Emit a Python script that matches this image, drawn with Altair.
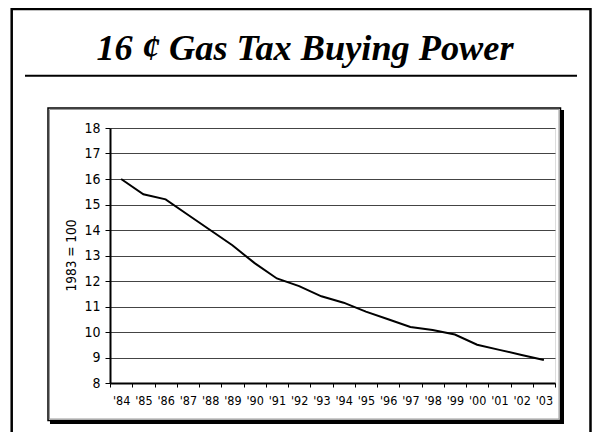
import altair as alt
import pandas as pd

years = ["'84", "'85", "'86", "'87", "'88", "'89", "'90", "'91", "'92", "'93",
         "'94", "'95", "'96", "'97", "'98", "'99", "'00", "'01", "'02", "'03"]
values = [16.0, 15.4, 15.2, 14.6, 14.0, 13.4, 12.7, 12.1, 11.8, 11.4,
          11.15, 10.8, 10.5, 10.2, 10.08, 9.9, 9.5, 9.3, 9.1, 8.9]
y_ticks = list(range(8, 19))
title_text = "16 ¢ Gas Tax Buying Power"
y_title = "1983 = 100"

df = pd.DataFrame({"year": years, "value": values})
dummy = pd.DataFrame({"a": [0]})

W, H = 445, 255
LABEL_FONT = "DejaVu Sans Condensed, sans-serif"

line = alt.Chart(df).mark_line(color="black", strokeWidth=2).encode(
    x=alt.X("year:N", sort=years,
            scale=alt.Scale(type="band", paddingInner=0, paddingOuter=0),
            axis=alt.Axis(title=None, labelAngle=0, tickBand="extent",
                          domainColor="black", domainWidth=2,
                          tickColor="black", tickWidth=1, tickSize=4,
                          labelFont=LABEL_FONT, labelFontSize=12.5,
                          labelColor="black", labelPadding=7, grid=False)),
    y=alt.Y("value:Q", scale=alt.Scale(domain=[8, 18], nice=False),
            axis=alt.Axis(values=y_ticks, title=y_title, grid=True,
                          gridColor="#444", gridWidth=1.2,
                          domainColor="black", domainWidth=2,
                          tickColor="black", tickWidth=1, tickSize=5,
                          labelFont=LABEL_FONT, labelFontSize=14,
                          labelColor="black", labelPadding=5,
                          titleFont=LABEL_FONT, titleFontSize=13.5,
                          titleFontWeight="normal", titleColor="black",
                          titleX=-39, titleY=127, titleAngle=-90,
                          titleAlign="center", titleBaseline="middle")),
)

outer = alt.Chart(dummy).mark_rect(fill="transparent", stroke="black", strokeWidth=2.5).encode(
    x=alt.value(-98.3), x2=alt.value(480.5), y=alt.value(-119), y2=alt.value(340))

title_rule = alt.Chart(dummy).mark_rule(color="black", strokeWidth=2).encode(
    x=alt.value(-85), x2=alt.value(467), y=alt.value(-52.3))

inner_box = alt.Chart(dummy).mark_rect(fill="transparent", stroke="black", strokeWidth=1.5).encode(
    x=alt.value(-62), x2=alt.value(450.5), y=alt.value(-20), y2=alt.value(292.5))
inner_gray = alt.Chart(dummy).mark_rect(fill="transparent", stroke="#999", strokeWidth=1).encode(
    x=alt.value(-60.5), x2=alt.value(449), y=alt.value(-18.5), y2=alt.value(291))
shadow_r = alt.Chart(dummy).mark_rule(color="black", strokeWidth=3).encode(
    x=alt.value(452.5), y=alt.value(-18), y2=alt.value(295.5))
shadow_b = alt.Chart(dummy).mark_rule(color="black", strokeWidth=3).encode(
    x=alt.value(-60), x2=alt.value(454), y=alt.value(294.5))

title = alt.Chart(dummy).mark_text(
    text=title_text, font="Liberation Serif", fontSize=36.3, fontWeight="bold",
    fontStyle="italic", align="center", baseline="alphabetic", color="black"
).encode(x=alt.value(195), y=alt.value(-68))

chart = alt.layer(outer, title_rule, inner_box, inner_gray, shadow_r, shadow_b, title, line).properties(
    width=W, height=H,
    autosize=alt.AutoSizeParams(type="none"),
    padding={"left": 102, "top": 120, "right": 37, "bottom": 49},
).configure_view(stroke="black", strokeWidth=1.5).configure(background="white")

chart.save("out.html", embed_options={"renderer": "svg", "actions": False})
